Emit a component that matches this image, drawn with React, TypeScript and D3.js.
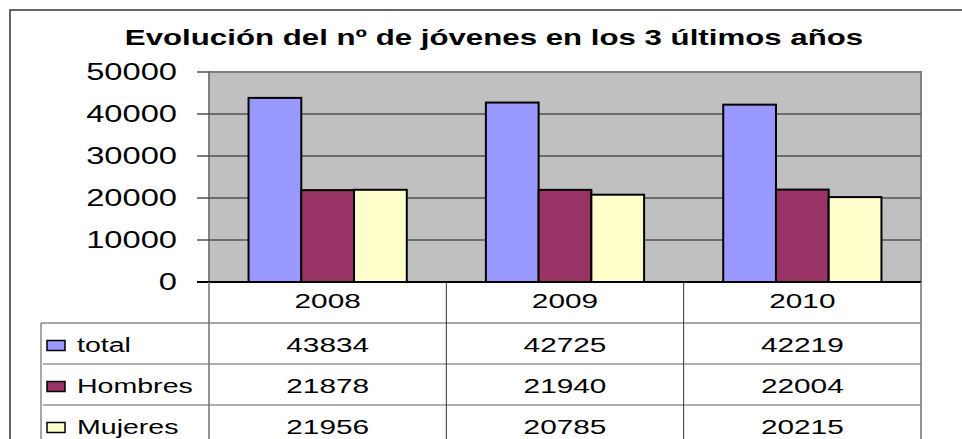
import { scaleBand, scaleLinear } from "d3";

const years = ["2008", "2009", "2010"];
const series = ["total", "Hombres", "Mujeres"];
const total = [43834, 42725, 42219];
const hombres = [21878, 21940, 22004];
const mujeres = [21956, 20785, 20215];
const yTicks = [0, 10000, 20000, 30000, 40000, 50000];

const values = [total, hombres, mujeres];
const colors = ["#9999FF", "#993366", "#FFFFCC"];

const W = 962;
const H = 439;
const SX = 1.42; // the reference text is stretched horizontally
const font = "'Liberation Sans', Arial, sans-serif";

const App = () => {
  const x0 = scaleBand<string>().domain(years).range([209, 921]);
  const x1 = scaleBand<string>()
    .domain(series)
    .range([0, x0.bandwidth()])
    .paddingOuter(0.75);
  const y = scaleLinear().domain([0, 50000]).range([282, 72]);
  const rows = scaleBand<string>().domain(series).range([323, 446]);

  const plotLeft = x0.range()[0];
  const plotRight = x0.range()[1];

  return (
    <svg
      width={W}
      height={H}
      style={{ position: "absolute", left: 0, top: 0, background: "#fff" }}
      fontFamily={font}
    >
      <rect x={10} y={10} width={1000} height={500} fill="#fff" stroke="#333" strokeWidth={1.5} />

      <text
        transform={`translate(494,45) scale(${SX},1)`}
        textAnchor="middle"
        fontSize={22}
        fontWeight="bold"
      >
        Evolución del nº de jóvenes en los 3 últimos años
      </text>

      {/* plot area */}
      <rect
        x={plotLeft}
        y={y(50000)}
        width={plotRight - plotLeft}
        height={y(0) - y(50000)}
        fill="#C0C0C0"
        stroke="#808080"
        strokeWidth={2}
      />
      {yTicks.map((t) => (
        <g key={t}>
          {t > 0 && t < 50000 && (
            <line x1={plotLeft} x2={plotRight} y1={y(t)} y2={y(t)} stroke="#505050" strokeWidth={1.5} />
          )}
          <line x1={197} x2={plotLeft} y1={y(t)} y2={y(t)} stroke="#505050" strokeWidth={1.5} />
          <text
            transform={`translate(177,${y(t)}) scale(${SX},1)`}
            textAnchor="end"
            dy="0.36em"
            fontSize={23}
          >
            {t}
          </text>
        </g>
      ))}

      {years.map((yr, i) => (
        <g key={yr} transform={`translate(${x0(yr)},0)`}>
          {series.map((s, j) => (
            <rect
              key={s}
              x={x1(s)}
              y={y(values[j][i])}
              width={x1.bandwidth()}
              height={y(0) - y(values[j][i])}
              fill={colors[j]}
              stroke="#000"
              strokeWidth={2}
            />
          ))}
        </g>
      ))}
      <line x1={197} x2={plotRight} y1={y(0)} y2={y(0)} stroke="#000" strokeWidth={2} />

      {/* data table */}
      <line x1={41} x2={plotRight} y1={rows.range()[0]} y2={rows.range()[0]} stroke="#505050" />
      {series.slice(1).map((s) => (
        <line key={s} x1={43} x2={plotRight} y1={rows(s)} y2={rows(s)} stroke="#606060" />
      ))}
      <line x1={41} x2={41} y1={rows.range()[0]} y2={H} stroke="#505050" />
      <line x1={plotLeft} x2={plotLeft} y1={y(0)} y2={H} stroke="#707070" strokeWidth={1.5} />
      {years.slice(1).map((yr) => (
        <line key={yr} x1={x0(yr)} x2={x0(yr)} y1={y(0)} y2={H} stroke="#333" />
      ))}
      <line x1={plotRight} x2={plotRight} y1={y(0)} y2={H} stroke="#707070" strokeWidth={1.5} />

      {years.map((yr) => (
        <text
          key={yr}
          transform={`translate(${(x0(yr) ?? 0) + x0.bandwidth() / 2},308) scale(${SX},1)`}
          textAnchor="middle"
          fontSize={21}
        >
          {yr}
        </text>
      ))}

      {series.map((s, j) => {
        const cy = (rows(s) ?? 0) + rows.bandwidth() / 2;
        return (
          <g key={s}>
            <rect x={47} y={cy - 3} width={18} height={10} fill={colors[j]} stroke="#000" strokeWidth={1.5} />
            <text transform={`translate(77,${cy + 8}) scale(1.36,1)`} fontSize={21}>
              {s}
            </text>
            {years.map((yr, i) => (
              <text
                key={yr}
                transform={`translate(${(x0(yr) ?? 0) + x0.bandwidth() / 2},${cy + 8}) scale(${SX},1)`}
                textAnchor="middle"
                fontSize={21}
              >
                {values[j][i]}
              </text>
            ))}
          </g>
        );
      })}
    </svg>
  );
};

export default App;
